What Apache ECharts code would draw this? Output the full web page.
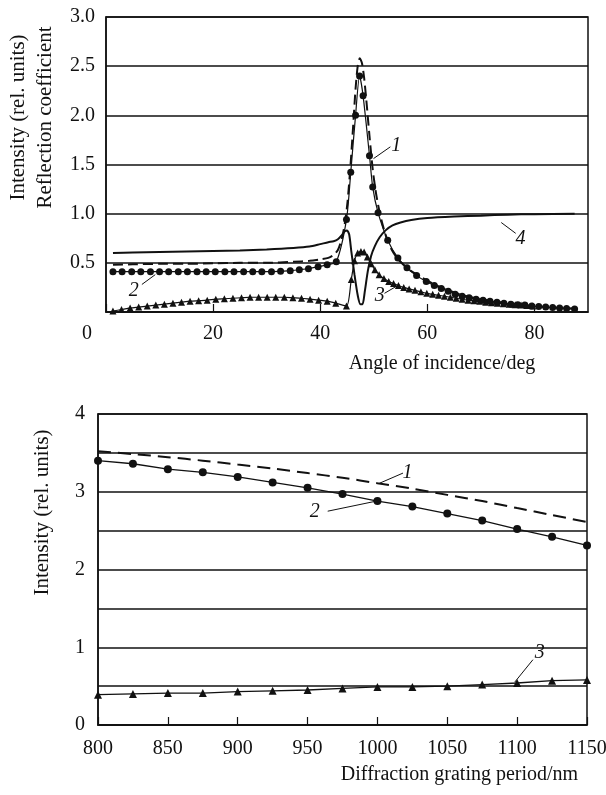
<!DOCTYPE html>
<html>
<head>
<meta charset="utf-8">
<script src="https://cdn.jsdelivr.net/npm/echarts@6/dist/echarts.min.js"></script>
<style>html,body{margin:0;padding:0;background:#fff;}#c{width:606px;height:795px;}</style>
</head>
<body>
<div id="c"></div>
<script>
// ---------- Top chart: reflection vs angle of incidence ----------
const topCurve1 = [[1.3,0.48],[5,0.485],[10,0.49],[15,0.49],[20,0.495],[25,0.50],[30,0.50],[35,0.51],[38,0.52],[40,0.535],[41.5,0.55],[42.5,0.58],[43.3,0.63],[44.0,0.74],[44.6,0.9],[45.1,1.12],[45.6,1.45],[46.1,1.85],[46.6,2.27],[47.0,2.50],[47.4,2.58],[47.8,2.53],[48.2,2.38],[48.6,2.16],[49.2,1.79],[49.8,1.45],[50.5,1.18],[51.4,0.94],[52.6,0.72],[53.7,0.6],[54.8,0.52],[56.6,0.43],[59.0,0.35],[61.0,0.29],[63.0,0.24],[66.0,0.18],[70,0.13],[75,0.09],[80,0.06],[84,0.045],[87.5,0.035]];
const topCurve2 = [[1.3,0.41],[3.0,0.41],[4.8,0.41],[6.5,0.41],[8.3,0.41],[10.0,0.41],[11.7,0.41],[13.5,0.41],[15.2,0.41],[17.0,0.41],[18.7,0.41],[20.4,0.41],[22.2,0.41],[23.9,0.41],[25.7,0.41],[27.4,0.41],[29.1,0.41],[30.9,0.41],[32.6,0.415],[34.4,0.42],[36.1,0.43],[37.8,0.44],[39.6,0.46],[41.3,0.48],[43.0,0.51],[44.9,0.94],[45.7,1.42],[46.6,2.0],[47.35,2.40],[48.0,2.2],[49.2,1.59],[49.8,1.27],[50.8,1.01],[52.6,0.73],[54.5,0.55],[56.2,0.45],[58.0,0.37],[59.8,0.31],[61.3,0.27],[62.6,0.24],[63.9,0.21],[65.2,0.18],[66.5,0.16],[67.8,0.145],[69.1,0.13],[70.4,0.12],[71.7,0.11],[73.0,0.10],[74.3,0.09],[75.6,0.08],[76.9,0.075],[78.2,0.07],[79.5,0.06],[80.8,0.055],[82.1,0.05],[83.4,0.045],[84.7,0.04],[86.0,0.035],[87.5,0.03]];
const topCurve3 = [[1.3,0.01],[2.9,0.025],[4.5,0.04],[6.1,0.05],[7.7,0.06],[9.3,0.07],[10.9,0.08],[12.5,0.09],[14.1,0.10],[15.7,0.11],[17.3,0.115],[18.9,0.12],[20.5,0.13],[22.1,0.135],[23.7,0.14],[25.3,0.145],[26.9,0.15],[28.5,0.15],[30.1,0.15],[31.7,0.15],[33.3,0.15],[34.9,0.145],[36.5,0.14],[38.1,0.13],[39.7,0.12],[41.3,0.11],[42.9,0.09],[44.9,0.06],[45.8,0.33],[46.4,0.52],[47.0,0.60],[47.6,0.615],[48.2,0.61],[48.8,0.56],[49.5,0.49],[50.2,0.43],[51.0,0.38],[51.9,0.34],[52.8,0.31],[53.7,0.29],[54.6,0.27],[55.6,0.25],[56.6,0.235],[57.7,0.22],[58.8,0.205],[59.9,0.19],[61.0,0.18],[62.1,0.17],[63.2,0.16],[64.3,0.15],[65.4,0.14],[66.5,0.13],[67.6,0.12],[68.7,0.115],[69.8,0.11],[70.9,0.10],[72.0,0.095],[73.1,0.09],[74.2,0.085],[75.3,0.08],[76.4,0.075],[77.5,0.07],[78.6,0.065],[79.7,0.06]];
const topCurve4 = [[1.3,0.60],[5,0.605],[10,0.61],[15,0.615],[20,0.62],[25,0.625],[30,0.635],[35,0.65],[38,0.665],[40,0.69],[41.5,0.71],[42.5,0.72],[43.3,0.74],[44.0,0.78],[44.6,0.82],[45.0,0.83],[45.4,0.79],[45.8,0.62],[46.4,0.38],[47.0,0.17],[47.5,0.08],[47.9,0.08],[48.3,0.2],[48.9,0.42],[49.5,0.57],[50.2,0.67],[51.1,0.76],[52.2,0.83],[53.5,0.88],[55,0.91],[57,0.935],[60,0.955],[65,0.97],[70,0.98],[75,0.99],[80,0.995],[87.5,1.0]];
const topXTicks = [0, 20, 40, 60, 80];
const topYTicks = ['0.5','1.0','1.5','2.0','2.5','3.0'];
const topXName = 'Angle of incidence/deg';
const topYName = 'Intensity (rel. units)\nReflection coefficient';
// annotation labels (data coordinates): text, label point, leader start, leader end
const topLabelText = ['1','2','3','4'];
const topLabelAt = [[54.2,1.69],[5.2,0.22],[51.1,0.17],[77.4,0.75]];
const topLeaderFrom = [[53.1,1.68],[6.7,0.28],[52.0,0.19],[76.5,0.80]];
const topLeaderTo = [[49.95,1.56],[9.2,0.38],[54.8,0.28],[73.8,0.91]];

// ---------- Bottom chart: intensity vs grating period ----------
const periods = [800,825,850,875,900,925,950,975,1000,1025,1050,1075,1100,1125,1150];
const botCurve1 = [3.52,3.485,3.445,3.40,3.35,3.30,3.24,3.18,3.11,3.04,2.96,2.88,2.79,2.70,2.61];
const botCurve2 = [3.40,3.36,3.29,3.25,3.19,3.12,3.05,2.97,2.88,2.81,2.72,2.63,2.52,2.42,2.31];
const botCurve3 = [0.39,0.40,0.41,0.41,0.43,0.44,0.45,0.47,0.49,0.49,0.50,0.52,0.54,0.57,0.58];
const botYTicks = ['0','1','2','3','4'];
const botXName = 'Diffraction grating period/nm';
const botYName = 'Intensity (rel. units)';
const botLabelText = ['1','2','3'];
const botLabelAt = [[1021.6,3.24],[955.1,2.74],[1116.1,0.93]];
const botLeaderFrom = [[1018.3,3.24],[964.4,2.75],[1111.3,0.84]];
const botLeaderTo = [[1001.6,3.11],[999.3,2.88],[1098.2,0.55]];

const FONT = 'Liberation Serif, DejaVu Serif, serif';
const INK = '#111';

function leaders(from, to) {
  return {
    silent: true, symbol: ['none','none'], animation: false,
    lineStyle: {color: INK, width: 1, type: 'solid'},
    label: {show: false},
    data: from.map((f, i) => [{coord: f}, {coord: to[i]}])
  };
}
function labels(text, at) {
  return {
    silent: true, animation: false, symbol: 'circle', symbolSize: 1,
    itemStyle: {color: 'rgba(0,0,0,0)'},
    label: {show: true, position: 'inside', color: INK, fontFamily: FONT, fontStyle: 'italic', fontSize: 20,
            formatter: p => p.name},
    data: text.map((t, i) => ({name: t, coord: at[i]}))
  };
}

const axisLineStyle = {show: true, lineStyle: {color: INK, width: 1.5}};
const labelStyle = {color: INK, fontFamily: FONT, fontSize: 20};

const option = {
  animation: false,
  backgroundColor: '#fff',
  grid: [
    {left: 106, right: 18, top: 17, height: 295, show: true, borderColor: INK, borderWidth: 1.5,
     containLabel: false, outerBoundsMode: 'none'},
    {left: 98, right: 19, top: 414, height: 311, show: true, borderColor: INK, borderWidth: 1.5,
     containLabel: false, outerBoundsMode: 'none'}
  ],
  xAxis: [
    {
      type: 'value', gridIndex: 0, min: 0, max: 90, interval: 20,
      axisLine: axisLineStyle,
      axisTick: {show: true, inside: true, length: 8, lineStyle: {color: INK, width: 1.2}},
      splitLine: {show: false},
      axisLabel: Object.assign({}, labelStyle, {
        margin: 12, showMaxLabel: false,
        formatter: v => (v === 0 ? '{z|' + topXTicks[0] + '}' : (topXTicks.indexOf(v) >= 0 ? String(v) : '')),
        rich: {z: {padding: [0, 38, 0, 0], fontFamily: FONT, fontSize: 20, color: INK}}
      }),
      name: topXName, nameLocation: 'middle', nameGap: 42,
      nameTextStyle: {color: INK, fontFamily: FONT, fontSize: 20, padding: [0, 0, 0, 190]}
    },
    {
      type: 'value', gridIndex: 1, min: 800, max: 1150, interval: 50,
      axisLine: axisLineStyle,
      axisTick: {show: true, inside: true, length: 8, lineStyle: {color: INK, width: 1.2}},
      splitLine: {show: false},
      axisLabel: Object.assign({}, labelStyle, {margin: 14, formatter: v => String(v)}),
      name: botXName, nameLocation: 'middle', nameGap: 40,
      nameTextStyle: {color: INK, fontFamily: FONT, fontSize: 20, padding: [0, 0, 0, 234]}
    }
  ],
  yAxis: [
    {
      type: 'value', gridIndex: 0, min: 0, max: 3, interval: 0.5,
      axisLine: axisLineStyle, axisTick: {show: false},
      splitLine: {show: true, lineStyle: {color: INK, width: 1.5}},
      axisLabel: Object.assign({}, labelStyle, {
        margin: 11,
        formatter: v => { const s = v.toFixed(1); return topYTicks.indexOf(s) >= 0 ? s : ''; }
      }),
      name: topYName, nameLocation: 'middle', nameRotate: 90, nameGap: 45,
      nameTextStyle: {color: INK, fontFamily: FONT, fontSize: 21, lineHeight: 27, padding: [0, 0, 0, 94]}
    },
    {
      type: 'value', gridIndex: 1, min: 0, max: 4, interval: 0.5,
      axisLine: axisLineStyle, axisTick: {show: false},
      splitLine: {show: true, lineStyle: {color: INK, width: 1.5}},
      axisLabel: Object.assign({}, labelStyle, {
        margin: 13,
        formatter: v => (botYTicks.indexOf(String(v)) >= 0 ? String(v) : '')
      }),
      name: botYName, nameLocation: 'middle', nameRotate: 90, nameGap: 45,
      nameTextStyle: {color: INK, fontFamily: FONT, fontSize: 21, padding: [0, 0, 0, 114]}
    }
  ],
  series: [
    {
      type: 'line', xAxisIndex: 0, yAxisIndex: 0, data: topCurve1, smooth: 0.25,
      showSymbol: false, lineStyle: {color: INK, width: 2, type: [10, 5]},
      markLine: leaders(topLeaderFrom, topLeaderTo),
      markPoint: labels(topLabelText, topLabelAt), z: 3
    },
    {
      type: 'line', xAxisIndex: 0, yAxisIndex: 0, data: topCurve2, smooth: 0.25,
      symbol: 'circle', symbolSize: 7, itemStyle: {color: INK},
      lineStyle: {color: INK, width: 1.2}, z: 4
    },
    {
      type: 'line', xAxisIndex: 0, yAxisIndex: 0, data: topCurve3, smooth: 0.25,
      symbol: 'triangle', symbolSize: 7, itemStyle: {color: INK},
      lineStyle: {color: INK, width: 1.2}, z: 4
    },
    {
      type: 'line', xAxisIndex: 0, yAxisIndex: 0, data: topCurve4, smooth: 0.25,
      showSymbol: false, lineStyle: {color: INK, width: 2}, z: 3
    },
    {
      type: 'line', xAxisIndex: 1, yAxisIndex: 1, data: periods.map((p, i) => [p, botCurve1[i]]), smooth: 0.3,
      showSymbol: false, lineStyle: {color: INK, width: 2, type: [13, 7]},
      markLine: leaders(botLeaderFrom, botLeaderTo),
      markPoint: labels(botLabelText, botLabelAt), z: 3
    },
    {
      type: 'line', xAxisIndex: 1, yAxisIndex: 1, data: periods.map((p, i) => [p, botCurve2[i]]),
      symbol: 'circle', symbolSize: 8, itemStyle: {color: INK},
      lineStyle: {color: INK, width: 1.3}, z: 4
    },
    {
      type: 'line', xAxisIndex: 1, yAxisIndex: 1, data: periods.map((p, i) => [p, botCurve3[i]]),
      symbol: 'triangle', symbolSize: 8, itemStyle: {color: INK},
      lineStyle: {color: INK, width: 1.3}, z: 4
    }
  ]
};

const chart = echarts.init(document.getElementById('c'), null, {renderer: 'canvas', width: 606, height: 795});
chart.setOption(option);
</script>
</body>
</html>
